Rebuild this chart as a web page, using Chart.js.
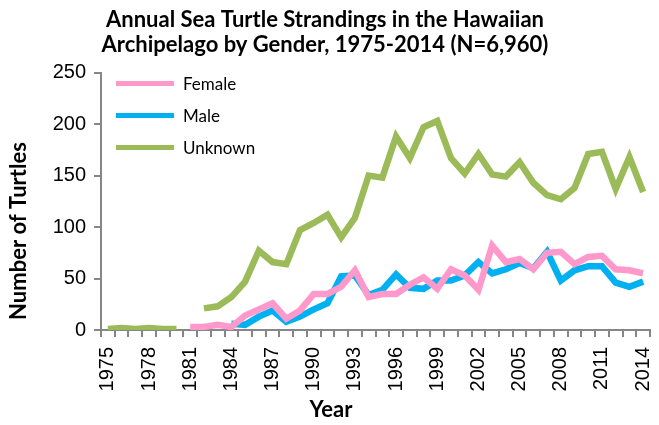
<!DOCTYPE html>
<html>
<head>
<meta charset="utf-8">
<script src="https://cdn.jsdelivr.net/npm/chart.js@4"></script>
<style>
  html, body { margin: 0; padding: 0; background: #fff; }
  #wrap { width: 659px; height: 425px; }
</style>
</head>
<body>
<div id="wrap"><canvas id="myChart" width="659" height="425"></canvas></div>
<script>
// years on the category axis
const years = [];
for (let y = 1975; y <= 2014; y++) years.push(String(y));

// values (null = no data)
const female = [null, null, null, null, null, null,
  3, 3, 5, 3, 14, 20, 26, 11, 19, 35, 35, 42, 58, 32,
  35, 35, 44, 51, 40, 59, 53, 39, 82, 66, 69, 59, 75, 76,
  64, 71, 72, 59, 58, 55];
const male = [null, null, null, null, null, null, null, null, null,
  6, 5, 13, 19, 8, 13, 20, 26, 52, 53, 34,
  39, 54, 41, 40, 48, 48, 53, 66, 55, 59, 65, 60, 76, 48,
  58, 62, 62, 46, 42, 47];
const unknown = [1, 2, 1, 2, 1, 1, null,
  21, 23, 32, 47, 77, 66, 64, 97, 104, 112, 90, 109, 150,
  148, 188, 167, 197, 203, 167, 152, 171, 151, 149, 163, 143, 131, 127,
  138, 171, 173, 137, 168, 134];

const yTicks = [0, 50, 100, 150, 200, 250];
const titleLines = ['Annual Sea Turtle Strandings in the Hawaiian', 'Archipelago by Gender, 1975-2014 (N=6,960)'];
const yTitle = 'Number of Turtles';
const xTitle = 'Year';

const gray = '#868686';
const font = 'Lato';
const tickFont = 'Liberation Sans';

// axis titles are placed like the original (centred on the page, not the plot)
// and the legend sits inside the plot, top left
const extras = {
  id: 'extras',
  afterDraw(chart) {
    const ctx = chart.ctx;
    const area = chart.chartArea;
    ctx.save();
    ctx.fillStyle = '#000';
    ctx.font = 'bold 22px ' + font;
    ctx.textAlign = 'center';
    ctx.textBaseline = 'middle';
    ctx.fillText(xTitle, 331, 410);
    ctx.save();
    ctx.translate(19, 231);
    ctx.rotate(-Math.PI / 2);
    ctx.fillText(yTitle, 0, 0);
    ctx.restore();

    ctx.textAlign = 'left';
    ctx.font = '17px ' + font;
    chart.data.datasets.forEach((ds, i) => {
      const y = area.top + 11 + i * 32;
      ctx.strokeStyle = ds.borderColor;
      ctx.lineWidth = 5;
      ctx.beginPath();
      ctx.moveTo(area.left + 15, y);
      ctx.lineTo(area.left + 73, y);
      ctx.stroke();
      ctx.fillStyle = '#000';
      ctx.fillText(ds.label, area.left + 82, y + 1);
    });
    ctx.restore();
  }
};

const ctx = document.getElementById('myChart');

new Chart(ctx, {
  type: 'line',
  data: {
    labels: years,
    datasets: [
      { label: 'Female', data: female, borderColor: '#FF99CC', backgroundColor: '#FF99CC' },
      { label: 'Male', data: male, borderColor: '#00B0F0', backgroundColor: '#00B0F0' },
      { label: 'Unknown', data: unknown, borderColor: '#9BBB59', backgroundColor: '#9BBB59' }
    ]
  },
  options: {
    responsive: false,
    animation: false,
    spanGaps: false,
    layout: { padding: { left: 0, right: 9, top: 0, bottom: 0 } },
    elements: {
      line: { borderWidth: 6.5, tension: 0, borderJoinStyle: 'miter', borderCapStyle: 'butt' },
      point: { radius: 0, hoverRadius: 0 }
    },
    plugins: {
      title: {
        display: true,
        text: titleLines,
        color: '#000',
        font: { family: font, size: 22, weight: 'bold', lineHeight: 1.15 },
        padding: { top: 7, bottom: 15 }
      },
      legend: { display: false },
      tooltip: { enabled: false }
    },
    scales: {
      x: {
        type: 'category',
        offset: true,
        afterFit(scale) {
          scale.height = 95;
          scale.paddingLeft = 0;
          scale.paddingRight = 0;
        },
        grid: { offset: true, drawOnChartArea: false, drawTicks: true, tickLength: 7, color: gray, lineWidth: 2 },
        border: { color: gray, width: 2 },
        ticks: {
          autoSkip: false,
          minRotation: 90,
          maxRotation: 90,
          color: '#000',
          padding: 10,
          font: { family: tickFont, size: 20 },
          callback: (v, i) => (i % 3 === 0 ? years[i] : '')
        }
      },
      y: {
        min: 0,
        max: 250,
        afterFit(scale) {
          scale.width = 101;
          scale.paddingTop = 0;
          scale.paddingBottom = 0;
        },
        afterBuildTicks(scale) { scale.ticks = yTicks.map(v => ({ value: v })); },
        grid: { drawOnChartArea: false, drawTicks: true, tickLength: 7, color: gray, lineWidth: 2 },
        border: { color: gray, width: 2 },
        ticks: {
          color: '#000',
          padding: 8,
          font: { family: tickFont, size: 20 }
        }
      }
    }
  },
  plugins: [extras]
});
</script>
</body>
</html>
